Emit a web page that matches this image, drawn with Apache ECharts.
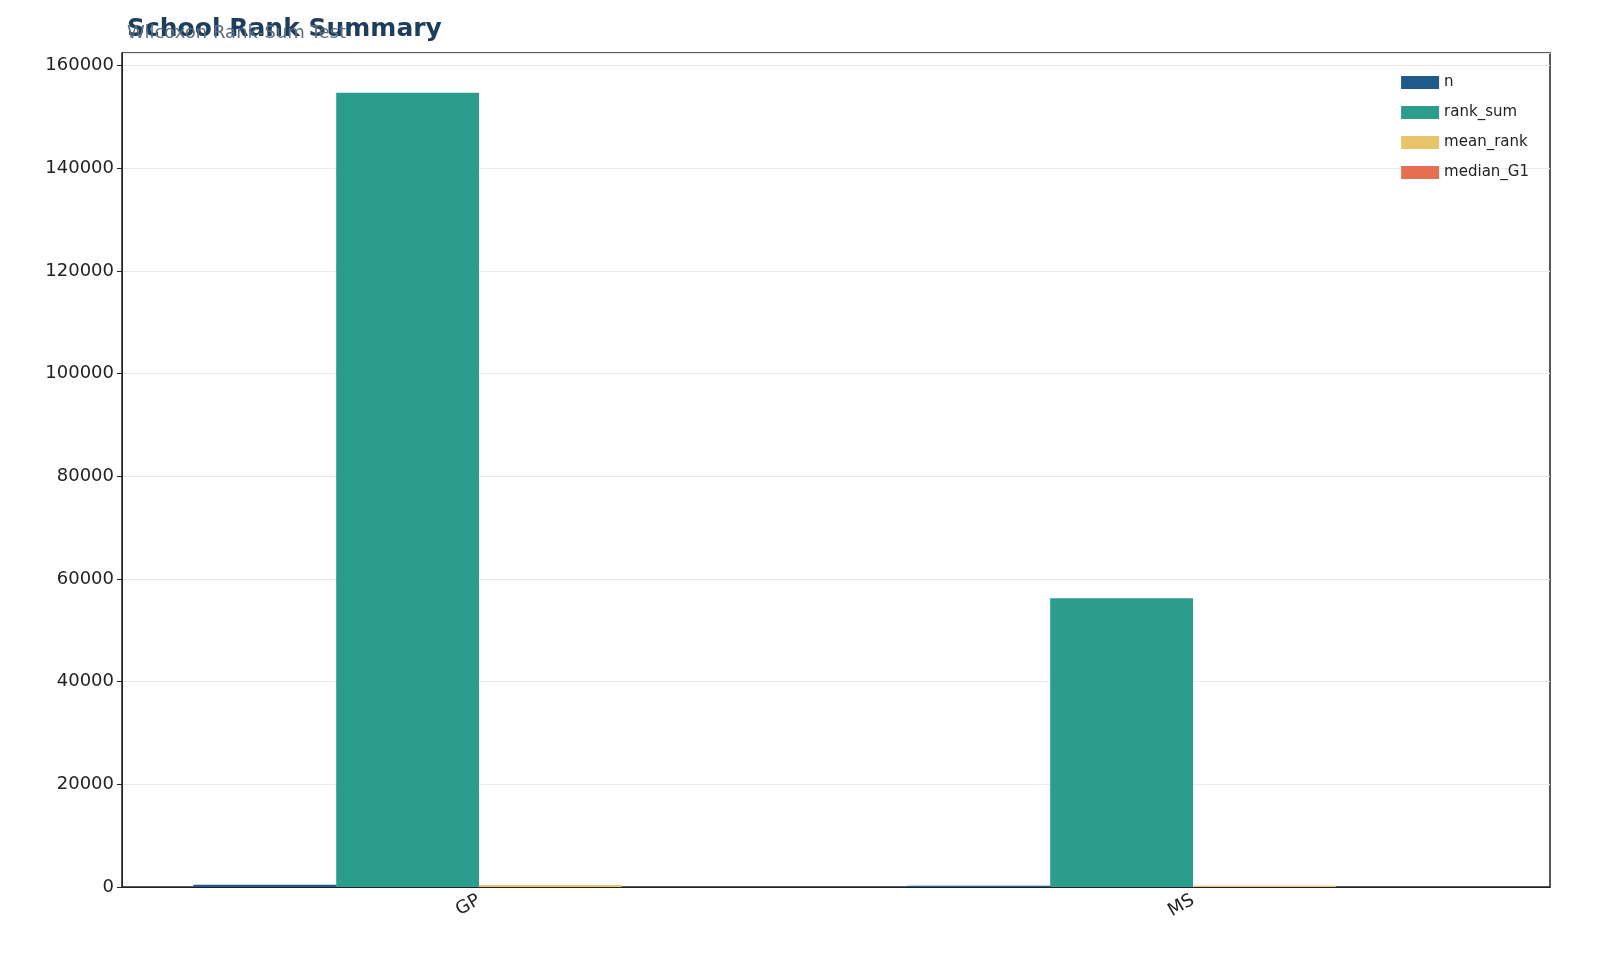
<!DOCTYPE html><html><head><meta charset="utf-8"><script src="https://cdn.jsdelivr.net/npm/echarts@6/dist/echarts.min.js"></script></head><body style="margin:0"><div id="c" style="width:1600px;height:978px"></div><script>
const categories=['GP','MS'];
const seriesNames=['n','rank_sum','mean_rank','median_G1'];
const nVals=[423,226];
const rankSum=[154700,56225];
const meanRank=[365.7,248.8];
const medianG1=[12,10];
const colors=['#1f5a8a','#2a9d8f','#e9c46a','#e76f51'];
const vals=[nVals,rankSum,meanRank,medianG1];
const ch=echarts.init(document.getElementById('c'));
ch.setOption({
animation:false,
title:[{text:'School Rank Summary',left:122,top:12,textStyle:{fontFamily:'DejaVu Sans',fontSize:25,fontWeight:'bold',color:'#1d3d5c'}},
{text:'Wilcoxon Rank-Sum Test',left:122,top:19,textStyle:{fontFamily:'DejaVu Sans',fontSize:18,fontWeight:'normal',color:'#5a6e80'}}],
legend:{orient:'vertical',right:66,top:70,itemWidth:38,itemHeight:13,itemGap:15,icon:'rect',textStyle:{fontFamily:'DejaVu Sans',fontSize:15,color:'#222'},data:seriesNames},
grid:{left:122,right:50,top:53,bottom:91,show:true,borderColor:'#222',borderWidth:1.5},
xAxis:{type:'category',data:categories,axisLine:{lineStyle:{color:'#222'}},axisTick:{alignWithLabel:true,lineStyle:{color:'#222'}},axisLabel:{rotate:30,fontFamily:'DejaVu Sans',fontSize:18,color:'#222',margin:12}},
yAxis:{type:'value',min:0,max:162435,interval:20000,axisLine:{show:true,lineStyle:{color:'#222'}},axisTick:{show:true,lineStyle:{color:'#222'}},axisLabel:{fontFamily:'DejaVu Sans',fontSize:18,color:'#222',showMaxLabel:false,formatter:v=>String(v)},splitLine:{lineStyle:{color:'#ebebeb'}}},
series:seriesNames.map((s,i)=>({name:s,type:'bar',data:vals[i],barGap:'0%',barCategoryGap:'20%',itemStyle:{color:colors[i]}}))
});
</script></body></html>
